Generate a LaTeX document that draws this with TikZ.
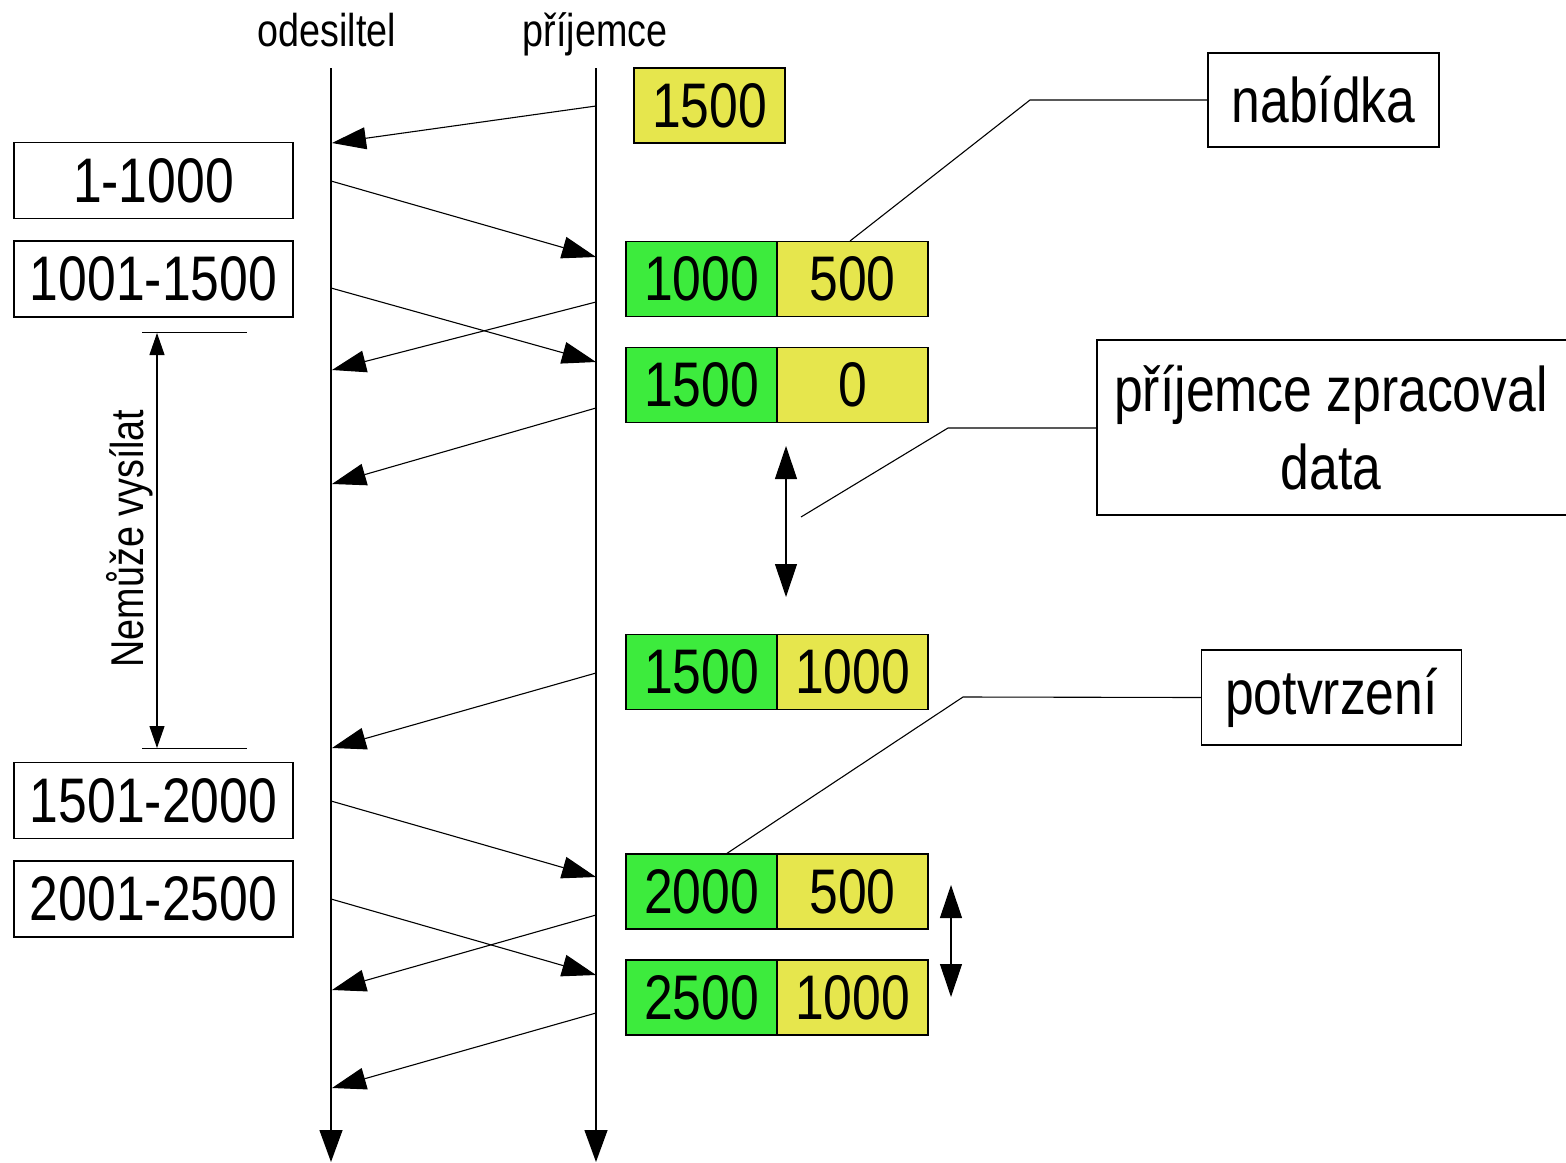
\documentclass[tikz,border=0pt]{standalone}
\usepackage{fontspec}
\setmainfont{Liberation Sans}[FakeStretch=0.82]
\usetikzlibrary{arrows.meta}
\definecolor{gr}{RGB}{61,235,61}
\definecolor{yl}{RGB}{230,230,77}
\tikzset{
  big/.style={font=\fontsize{63}{78}\selectfont},
  small/.style={font=\fontsize{46}{56}\selectfont},
  box/.style={draw, line width=1.3pt, inner sep=0pt, big, align=center},
  leftbox/.style={box, minimum width=279pt, minimum height=76pt},
  cell/.style={box, minimum width=151pt, minimum height=75pt},
  gcell/.style={cell, fill=gr},
  ycell/.style={cell, fill=yl},
  msg/.style={line width=1.1pt, -{Triangle[length=34pt,width=22pt]}},
  timeline/.style={line width=1.3pt, -{Triangle[length=32pt,width=23pt]}},
  dbl/.style={line width=1.1pt, {Triangle[length=33pt,width=22pt]}-{Triangle[length=33pt,width=22pt]}},
  dim/.style={line width=1.1pt, {Triangle[length=22pt,width=15pt]}-{Triangle[length=22pt,width=15pt]}},
  leader/.style={line width=1.1pt},
}
\begin{document}
\begin{tikzpicture}[x=1pt,y=-1pt]
\useasboundingbox (0,0) rectangle (1566,1162);
% labels
\node[small, anchor=base] (lS) at (327,46) {odesiltel};
\node[small, anchor=base] (lR) at (595,46) {příjemce};
% timelines
\coordinate (sTop) at (331,68);
\coordinate (sBot) at (331,1162);
\coordinate (rTop) at (596,68);
\coordinate (rBot) at (596,1162);
\draw[timeline] (sTop) -- (sBot);
\draw[timeline] (rTop) -- (rBot);
% left boxes
\node[leftbox] (b1) at (153.5,180.5) {1-1000};
\node[leftbox] (b2) at (153.5,279) {1001-1500};
\node[leftbox] (b3) at (153.5,800.5) {1501-2000};
\node[leftbox] (b4) at (153.5,899) {2001-2500};
% right boxes
\node[ycell] (w0) at (709.5,105.5) {1500};
\node[gcell] (a1) at (701.5,279) {1000};
\node[ycell] (w1) at (852.5,279) {500};
\node[gcell] (a2) at (701.5,385) {1500};
\node[ycell] (w2) at (852.5,385) {0};
\node[gcell] (a3) at (701.5,672) {1500};
\node[ycell] (w3) at (852.5,672) {1000};
\node[gcell] (a4) at (701.5,891.5) {2000};
\node[ycell] (w4) at (852.5,891.5) {500};
\node[gcell] (a5) at (701.5,997.5) {2500};
\node[ycell] (w5) at (852.5,997.5) {1000};
% message endpoints
\coordinate (r1) at (596,106);  \coordinate (s1) at (332,143);
\coordinate (s2) at (331,181);  \coordinate (r2) at (596,257);
\coordinate (s3) at (331,288);  \coordinate (r3) at (596,362);
\coordinate (r4) at (596,302);  \coordinate (s4) at (332,370);
\coordinate (r5) at (596,408);  \coordinate (s5) at (332,484);
\coordinate (r6) at (596,673);  \coordinate (s6) at (332,748);
\coordinate (s7) at (331,801);  \coordinate (r7) at (596,877);
\coordinate (s8) at (331,899);  \coordinate (r8) at (596,975);
\coordinate (r9) at (596,915);  \coordinate (s9) at (332,990);
\coordinate (r10) at (596,1013); \coordinate (s10) at (332,1088);
\draw[msg] (r1) -- (s1);
\draw[msg] (s2) -- (r2);
\draw[msg] (s3) -- (r3);
\draw[msg] (r4) -- (s4);
\draw[msg] (r5) -- (s5);
\draw[msg] (r6) -- (s6);
\draw[msg] (s7) -- (r7);
\draw[msg] (s8) -- (r8);
\draw[msg] (r9) -- (s9);
\draw[msg] (r10) -- (s10);
% double arrows
\coordinate (d1a) at (786,446); \coordinate (d1b) at (786,597);
\draw[dbl] (d1a) -- (d1b);
\coordinate (d2a) at (951,885); \coordinate (d2b) at (951,997);
\draw[dbl] (d2a) -- (d2b);
% Nemuze vysilat dimension
\coordinate (t1a) at (142,332); \coordinate (t1b) at (247,332);
\coordinate (t2a) at (142,748); \coordinate (t2b) at (247,748);
\draw[line width=1pt] (t1a) -- (t1b);
\draw[line width=1pt] (t2a) -- (t2b);
\coordinate (v1) at (157,333); \coordinate (v2) at (157,748);
\draw[dim] (v1) -- (v2);
\node[small, rotate=90, anchor=base] (nv) at (143,538.5) {Nemůže vysílat};
% callouts
\node[box, minimum width=231pt, minimum height=94pt] (nab) at (1323.5,100) {nabídka};
\coordinate (nabK) at (1030,100);
\coordinate (nabE) at (850,241);
\draw[leader] (nab.west) -- (nabK) -- (nabE);
\node[big, align=center, inner sep=0pt] (zpr) at (1331,427.5) {příjemce zpracoval\\data};
\coordinate (zTR) at (1570,340); \coordinate (zTL) at (1097,340);
\coordinate (zBL) at (1097,515); \coordinate (zBR) at (1570,515);
\draw[line width=1.3pt] (zTR) -- (zTL) -- (zBL) -- (zBR);
\coordinate (zW) at (1097,428);
\coordinate (zK) at (948,428);
\coordinate (zE) at (801,517);
\draw[leader] (zW) -- (zK) -- (zE);
\node[box, minimum width=260pt, minimum height=95pt] (pot) at (1331.5,697.5) {potvrzení};
\coordinate (potK) at (963,697);
\coordinate (potE) at (726,854);
\draw[leader] (pot.west) -- (potK) -- (potE);
\end{tikzpicture}
\end{document}
